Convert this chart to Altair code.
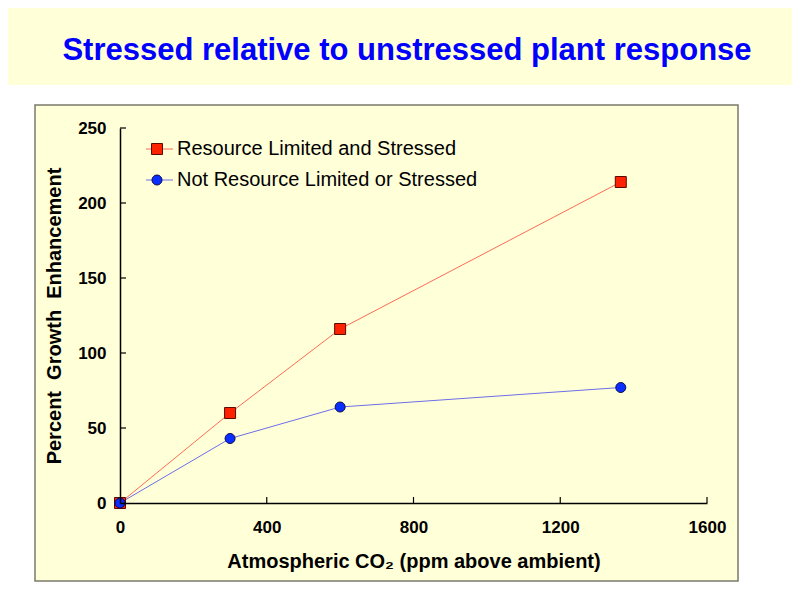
import altair as alt
import pandas as pd

title_text = "Stressed relative to unstressed plant response"
series_names = ["Resource Limited and Stressed", "Not Resource Limited or Stressed"]
co2 = [0, 300, 600, 1365]
stressed = [0, 60, 116, 214]
unstressed = [0, 43, 64, 77]
x_ticks = [0, 400, 800, 1200, 1600]
y_ticks = [0, 50, 100, 150, 200, 250]
x_title = "Atmospheric CO\u2082 (ppm above ambient)"
y_title = "Percent\u00a0 Growth\u00a0 Enhancement"

line_colors = ["#FF6A5A", "#6E6EEA"]
fill_colors = ["#FF2200", "#0A2EFF"]
stroke_colors = ["#5A0A00", "#0A0A50"]
shapes = ["square", "circle"]
marker_sizes = [121, 100]

W, H = 587, 375
FONT = "Liberation Sans"
BG = "#FFFFD8"

df = pd.DataFrame({
    "co2": co2 + co2,
    "value": stressed + unstressed,
    "series": [series_names[0]] * len(co2) + [series_names[1]] * len(co2),
})

xscale = alt.Scale(domain=[0, 1600], nice=False)
yscale = alt.Scale(domain=[0, 250], nice=False)

one = pd.DataFrame({"t": [title_text]})

band = alt.Chart(one).mark_rect(fill=BG).encode(
    x=alt.value(-112), x2=alt.value(672), y=alt.value(-120), y2=alt.value(-43)
)
box = alt.Chart(one).mark_rect(fill=BG, stroke="#7A7A6A", strokeWidth=1.5).encode(
    x=alt.value(-85), x2=alt.value(618), y=alt.value(-23), y2=alt.value(453)
)
title = alt.Chart(one).mark_text(
    font=FONT, fontSize=31, fontWeight="bold", color="#0000FF", align="center", baseline="middle"
).encode(x=alt.value(287), y=alt.value(-77), text="t:N")

xaxis = alt.Axis(
    values=x_ticks, format="d", grid=False, ticks=False, domainColor="black", domainWidth=1.5,
    labelFont=FONT, labelFontSize=17, labelFontWeight="bold", labelColor="black", labelPadding=16,
    labelFlush=False, title=x_title, titleFont=FONT, titleFontSize=20, titleFontWeight="bold",
    titleColor="black", titlePadding=16, zindex=1,
)
yaxis = alt.Axis(
    values=y_ticks, format="d", grid=False, ticks=False, domainColor="black", domainWidth=1.5,
    labelFont=FONT, labelFontSize=17, labelFontWeight="bold", labelColor="black", labelPadding=14,
    labelFlush=False, title=y_title, titleFont=FONT, titleFontSize=20, titleFontWeight="bold",
    titleColor="black", titlePadding=13, zindex=1,
)

lines = alt.Chart(df).mark_line(strokeWidth=1).encode(
    x=alt.X("co2:Q", scale=xscale, axis=xaxis),
    y=alt.Y("value:Q", scale=yscale, axis=yaxis),
    color=alt.Color("series:N", scale=alt.Scale(domain=series_names, range=line_colors), legend=None),
)
points = alt.Chart(df).mark_point(filled=True, opacity=1, strokeWidth=1).encode(
    x=alt.X("co2:Q", scale=xscale),
    y=alt.Y("value:Q", scale=yscale),
    shape=alt.Shape("series:N", scale=alt.Scale(domain=series_names, range=shapes), legend=None),
    fill=alt.Fill("series:N", scale=alt.Scale(domain=series_names, range=fill_colors), legend=None),
    stroke=alt.Stroke("series:N", scale=alt.Scale(domain=series_names, range=stroke_colors), legend=None),
    size=alt.Size("series:N", scale=alt.Scale(domain=series_names, range=marker_sizes), legend=None),
)

xt = alt.Chart(pd.DataFrame({"t": x_ticks})).mark_rule(color="black", strokeWidth=1.2).encode(
    x=alt.X("t:Q", scale=xscale), y=alt.value(H), y2=alt.value(H - 6)
)
yt = alt.Chart(pd.DataFrame({"t": y_ticks})).mark_rule(color="black", strokeWidth=1.2).encode(
    y=alt.Y("t:Q", scale=yscale), x=alt.value(0), x2=alt.value(6)
)

legend_layers = []
for i, name in enumerate(series_names):
    ly = 21 + 31 * i
    ldf = pd.DataFrame({"label": [name]})
    legend_layers.append(alt.Chart(ldf).mark_rule(color=line_colors[i], strokeWidth=1).encode(
        x=alt.value(26), x2=alt.value(53), y=alt.value(ly)))
    legend_layers.append(alt.Chart(ldf).mark_point(
        shape=shapes[i], filled=True, fill=fill_colors[i], stroke=stroke_colors[i], strokeWidth=1,
        size=marker_sizes[i], opacity=1).encode(x=alt.value(37), y=alt.value(ly)))
    legend_layers.append(alt.Chart(ldf).mark_text(
        font=FONT, fontSize=20, color="black", align="left", baseline="middle").encode(
        x=alt.value(57), y=alt.value(ly), text="label:N"))

chart = alt.layer(band, box, title, xt, yt, lines, points, *legend_layers).properties(
    width=W, height=H,
    autosize=alt.AutoSizeParams(type="none"),
    padding={"left": 112, "top": 120, "right": 85, "bottom": 89},
    background="white",
).configure_view(stroke=None)

chart.save("out.html", embed_options={"renderer": "svg", "actions": False})
